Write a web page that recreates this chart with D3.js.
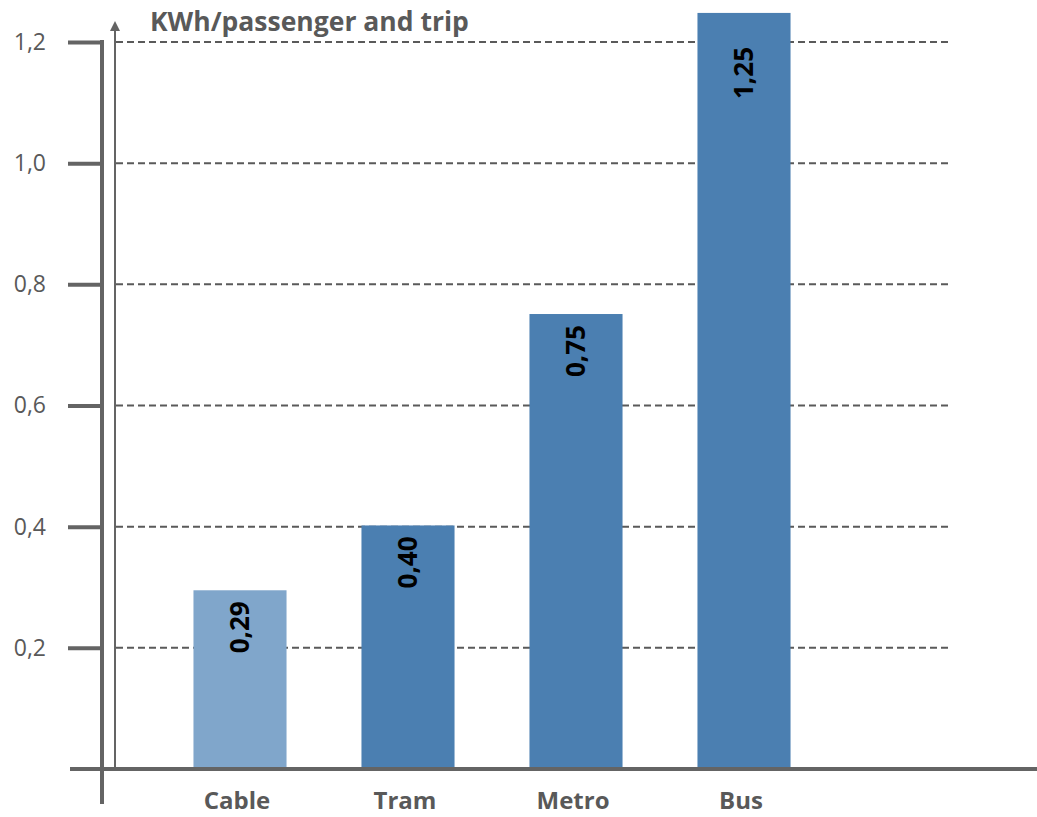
<!DOCTYPE html>
<html>
<head>
<meta charset="utf-8">
<script src="https://cdn.jsdelivr.net/npm/d3@7"></script>
<style>
  body { margin: 0; background: #fff; }
  svg { display: block; font-family: "Open Sans", sans-serif; }
</style>
</head>
<body>
<svg id="chart" width="1037" height="817"></svg>
<script>
// chart data
var categories = ["Cable", "Tram", "Metro", "Bus"];
var values = [0.295, 0.402, 0.751, 1.248];
var valueLabels = ["0,29", "0,40", "0,75", "1,25"];
var barColors = ["#80a6cb", "#4b7fb1", "#4b7fb1", "#4b7fb1"];
var yTicks = [0.2, 0.4, 0.6, 0.8, 1.0, 1.2];
var yTitle = "KWh/passenger and trip";

var svg = d3.select("#chart"),
    axisColor = "#646464",
    textColor = "#595959";

var yScale = d3.scaleLinear().domain([0, 1.2]).range([769, 42]);
var xScale = d3.scaleBand().domain(categories).range([156, 828])
    .paddingInner(0.446).paddingOuter(0.223);

// dashed gridlines
svg.append("g").attr("class", "grid")
  .selectAll("line")
  .data(yTicks)
  .enter().append("line")
    .attr("x1", 116).attr("x2", 948)
    .attr("y1", function(d) { return yScale(d); })
    .attr("y2", function(d) { return yScale(d); })
    .attr("stroke", "#5a5a5a")
    .attr("stroke-width", 2)
    .attr("stroke-dasharray", "7,4");

// bars
svg.selectAll(".bar")
  .data(values)
  .enter().append("rect")
    .attr("class", "bar")
    .attr("x", function(d, i) { return xScale(categories[i]); })
    .attr("y", function(d) { return yScale(d); })
    .attr("width", xScale.bandwidth())
    .attr("height", function(d) { return yScale(0) - yScale(d); })
    .attr("fill", function(d, i) { return barColors[i]; });

// value labels (rotated, inside top of bar)
svg.selectAll(".val")
  .data(values)
  .enter().append("text")
    .attr("class", "val")
    .attr("transform", function(d, i) {
      var cx = xScale(categories[i]) + xScale.bandwidth() / 2 + 9;
      var top = Math.max(yScale(d), yScale(1.2) - 6) + 11;
      return "translate(" + cx + "," + top + ") rotate(-90)";
    })
    .attr("text-anchor", "end")
    .attr("font-size", 26)
    .attr("font-weight", "bold")
    .attr("fill", "#000")
    .text(function(d, i) { return valueLabels[i]; });

// left axis: ticks and labels
var yAxis = svg.append("g")
  .attr("transform", "translate(102,0)")
  .call(d3.axisLeft(yScale).tickValues(yTicks).tickSize(34).tickPadding(22)
    .tickFormat(function(d) { return d3.format(".1f")(d).replace(".", ","); }));
yAxis.select(".domain").remove();
yAxis.selectAll(".tick line").attr("stroke", axisColor).attr("stroke-width", 4);
yAxis.selectAll(".tick text")
  .attr("fill", textColor)
  .attr("font-size", 23)
  .attr("font-family", "Open Sans, sans-serif");

// thick vertical axis line
svg.append("line")
  .attr("x1", 102).attr("x2", 102)
  .attr("y1", yScale(1.2) - 2).attr("y2", 804)
  .attr("stroke", axisColor).attr("stroke-width", 4);

// thin arrow axis
svg.append("defs").append("marker")
  .attr("id", "arrow")
  .attr("viewBox", "0 0 10 10")
  .attr("refX", 5).attr("refY", 5)
  .attr("markerWidth", 5).attr("markerHeight", 5)
  .attr("orient", "auto")
  .append("path")
    .attr("d", "M0,0L10,5L0,10z")
    .attr("fill", axisColor);

svg.append("line")
  .attr("x1", 115).attr("x2", 115)
  .attr("y1", yScale(0)).attr("y2", 26)
  .attr("stroke", axisColor).attr("stroke-width", 2)
  .attr("marker-end", "url(#arrow)");

// horizontal axis
svg.append("line")
  .attr("x1", 70).attr("x2", 1037)
  .attr("y1", yScale(0)).attr("y2", yScale(0))
  .attr("stroke", axisColor).attr("stroke-width", 4);

// category labels
svg.selectAll(".cat")
  .data(categories)
  .enter().append("text")
    .attr("class", "cat")
    .attr("x", function(d) { return xScale(d) + xScale.bandwidth() / 2 - 3; })
    .attr("y", 809)
    .attr("text-anchor", "middle")
    .attr("font-size", 24)
    .attr("font-weight", "bold")
    .attr("fill", textColor)
    .text(function(d) { return d; });

// y title
svg.append("text")
  .attr("x", 150).attr("y", 31)
  .attr("font-size", 26.5)
  .attr("font-weight", "bold")
  .attr("fill", textColor)
  .text(yTitle);
</script>
</body>
</html>
